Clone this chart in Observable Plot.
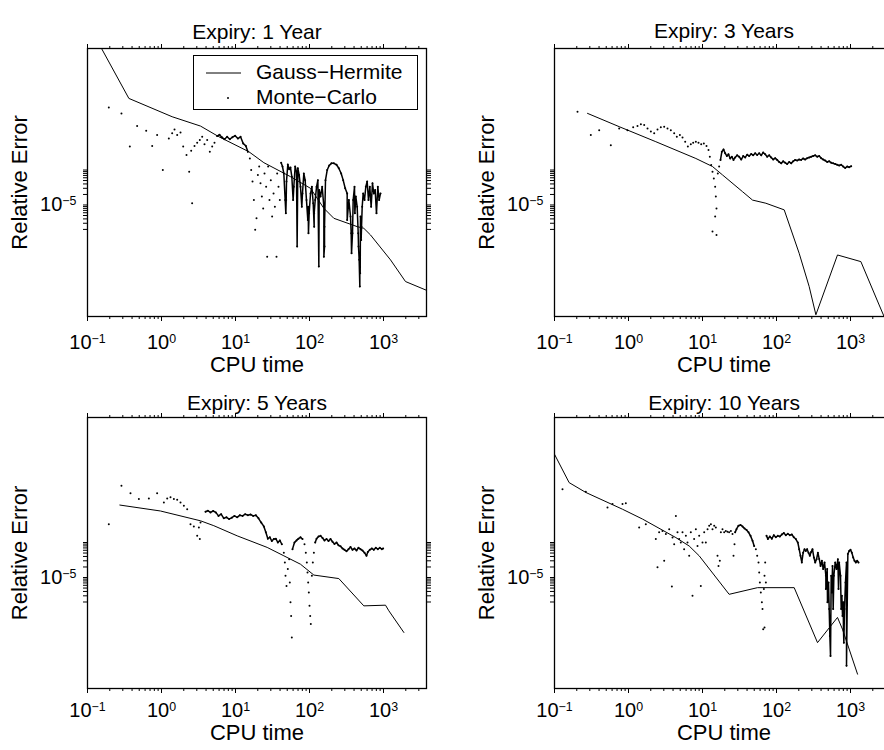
<!DOCTYPE html>
<html><head><meta charset="utf-8">
<script src="https://cdn.jsdelivr.net/npm/d3@7"></script>
<script src="https://cdn.jsdelivr.net/npm/@observablehq/plot@0.6"></script>
<style>
html,body{margin:0;padding:0;background:#fff;overflow:hidden}
#fig{position:relative;width:884px;height:750px;overflow:hidden;font-family:"Liberation Sans",Arial,Helvetica,sans-serif;color:#000}
.panel{position:absolute}
#legend{position:absolute;left:193px;top:55px;width:223px;height:53px;border:1.3px solid #000;background:#fff;font-size:21px}
#legend span{position:absolute;left:62px;white-space:nowrap;line-height:24px}
</style></head><body><div id="fig"></div>
<script>
// ---- axes / scale settings ----
const xDomain = [0.1, 3810];
const yDomainTop = [6.46e-9, 0.299];
const yDomainBottom = [6.76e-9, 0.372];
const xMajor = [0.1, 1, 10, 100, 1000];
const xTickLabels = ["10^-1", "10^0", "10^1", "10^2", "10^3"];
const xMinor = [0.2,0.3,0.4,0.5,0.6,0.7,0.8,0.9,2,3,4,5,6,7,8,9,20,30,40,50,60,70,80,90,200,300,400,500,600,700,800,900,2000,3000];
const yMajor = [1e-5];
const yTickLabels = ["10^-5"];
const yMinor = [2e-6,3e-6,4e-6,5e-6,6e-6,7e-6,8e-6,9e-6,2e-5,3e-5,4e-5,5e-5,6e-5,7e-5,8e-5,9e-5,1e-4];
const titles = ["Expiry: 1 Year", "Expiry: 3 Years", "Expiry: 5 Years", "Expiry: 10 Years"];
const xLabel = "CPU time";
const yLabel = "Relative Error";
const legendLabels = ["Gauss\u2212Hermite", "Monte\u2212Carlo"];

// ---- data: [log10(CPU time), log10(relative error)] ----
const gh1Log = [[-1,0.21],[-0.441,-1.952],[0.144,-2.476],[0.527,-2.743],[0.775,-3.048],[1.180,-3.476],[1.383,-3.790],[1.743,-4.190],[2.014,-4.524],[2.194,-5.095],[2.329,-5.381],[2.644,-5.619],[2.734,-5.667],[2.824,-5.857],[3.095,-6.571],[3.297,-7.190],[3.581,-7.44]];
const gh2Log = [[-0.554,-2.38],[-0.126,-2.76],[0.369,-3.19],[0.910,-3.67],[1.135,-3.90],[1.270,-4.14],[1.541,-4.62],[1.676,-4.86],[1.856,-4.95],[2.104,-5.14],[2.306,-6.38],[2.441,-7.33],[2.532,-8.14],[2.824,-6.43],[3.140,-6.62],[3.387,-7.86],[3.581,-8.82]];
const gh3Log = [[-0.563,-2.93],[-0.014,-3.10],[0.527,-3.38],[0.707,-3.52],[1.023,-3.81],[1.428,-4.14],[1.653,-4.38],[1.878,-4.62],[2.059,-4.93],[2.396,-5.03],[2.734,-5.81],[3.027,-5.79],[3.072,-5.95],[3.275,-6.57]];
const gh4Log = [[-1.000,-1.48],[-0.802,-2.29],[-0.577,-2.57],[-0.081,-3.05],[0.189,-3.33],[0.640,-3.86],[0.820,-4.10],[0.955,-4.38],[1.360,-5.48],[1.743,-5.29],[2.239,-5.29],[2.554,-6.86],[2.824,-6.14],[2.892,-6.48],[3.095,-7.76]];

const mc1Log = [[-0.712,-2.21],[-0.541,-2.38],[-0.428,-3.33],[-0.329,-2.74],[-0.207,-2.88],[-0.126,-3.31],[-0.059,-3.00],[0.018,-4.00],[0.099,-3.10],[0.144,-2.95],[0.176,-2.84],[0.212,-3.00],[0.257,-2.93],[0.293,-3.33],[0.338,-3.57],[0.374,-4.05],[0.414,-4.95],[0.401,-3.45],[0.446,-3.31],[0.482,-3.22],[0.518,-3.14],[0.550,-3.05],[0.581,-3.26],[0.617,-3.14],[0.653,-3.48],[0.685,-3.33],[0.716,-3.22],
[0.752,-3.03],[0.784,-2.99],[0.815,-3.06],[0.851,-3.12],[0.887,-3.05],[0.923,-3.12],[0.959,-3.06],[0.995,-3.02],[1.032,-3.10],[1.068,-3.05],[1.104,-3.24],[1.140,-3.31],[1.167,-3.48],
[1.194,-3.67],[1.212,-4.00],[1.230,-4.33],[1.248,-4.86],[1.266,-5.71],[1.284,-5.38],[1.302,-4.14],[1.320,-3.90],[1.338,-4.38],[1.356,-4.76],[1.374,-5.10],[1.392,-4.10],[1.414,-4.48],[1.428,-6.48],[1.441,-3.90],[1.459,-4.86],[1.477,-4.29],[1.495,-5.33],[1.514,-4.67],[1.532,-5.05],[1.554,-6.48],[1.563,-4.10],[1.581,-4.48],[1.599,-4.86],
[1.617,-3.79],[1.635,-3.90],[1.653,-4.10],[1.671,-4.86],[1.680,-5.24],[1.689,-4.33],[1.707,-3.84],[1.725,-3.98],[1.743,-3.93],[1.761,-4.19],[1.779,-4.86],[1.788,-4.48],[1.806,-3.90],[1.824,-4.05],[1.842,-3.95],[1.860,-4.14],[1.878,-4.48],[1.896,-5.05],[1.905,-4.67],[1.923,-4.10],[1.941,-4.29],[1.959,-4.86],[1.977,-5.43],[1.986,-5.81],[1.995,-5.24],[2.014,-4.67],[2.032,-4.48],[2.050,-4.95],[2.063,-5.62],[2.077,-4.86],[2.095,-4.48],[2.113,-4.29],[2.131,-4.57],[2.149,-4.76],[2.171,-4.48],[2.194,-5.05],[2.203,-6.19],
[2.216,-4.29],[2.239,-4.00],[2.266,-3.87],[2.297,-3.81],[2.329,-3.81],[2.365,-3.85],[2.396,-3.95],[2.428,-4.10],[2.455,-4.29],[2.482,-4.52],[2.509,-4.67],[2.532,-4.86],[2.554,-5.33],[2.568,-6.38],[2.581,-5.81],[2.590,-4.86],[2.608,-4.48],[2.626,-4.76],[2.644,-5.05],[2.658,-5.81],[2.671,-6.57],[2.680,-7.33],[2.689,-5.33],[2.698,-6.00],[2.712,-5.05],[2.725,-4.67],[2.743,-4.86],[2.761,-4.48],[2.779,-4.33],[2.797,-4.86],[2.815,-4.48],[2.833,-5.05],[2.851,-4.38],[2.869,-4.67],[2.887,-4.57],[2.905,-5.24],[2.923,-4.48],[2.941,-4.86],[2.959,-4.67],
[2.680,-6.38],[2.685,-6.95],[2.563,-5.81],[1.982,-5.05],[2.203,-5.62],[2.063,-5.24],[2.662,-6.19],[2.613,-5.24],[1.685,-4.86],[2.703,-5.62],[2.509,-5.43],[1.833,-6.19],[2.194,-6.48],[2.126,-6.76]];

const mc2Log = [[-0.689,-2.33],[-0.509,-3.00],[-0.396,-2.86],[-0.239,-3.29],[-0.126,-2.81],[-0.014,-2.86],[0.063,-2.78],[0.122,-2.74],[0.167,-2.69],[0.212,-2.71],[0.257,-2.81],[0.302,-2.90],[0.347,-2.95],[0.392,-2.84],[0.437,-2.78],[0.482,-2.76],[0.527,-2.81],[0.572,-2.86],[0.617,-2.95],[0.653,-3.05],[0.694,-3.00],[0.730,-3.07],[0.766,-3.19],[0.802,-3.33],[0.842,-3.26],[0.874,-3.22],[0.910,-3.19],[0.946,-3.22],[0.982,-3.26],[1.018,-3.24],[1.054,-3.31],[1.081,-3.43],[1.099,-3.62],[1.117,-3.86],[1.135,-4.05],[1.153,-4.24],[1.171,-4.48],[1.180,-4.76],[1.189,-5.10],[1.171,-5.33],[1.135,-5.76],[1.189,-5.86],[1.207,-4.10],[1.225,-3.90],[1.243,-3.71],[1.261,-3.48],[1.284,-3.41],[1.306,-3.52],[1.329,-3.60],[1.351,-3.55],[1.374,-3.67],[1.396,-3.62],[1.419,-3.71],[1.441,-3.64],[1.468,-3.58],[1.495,-3.62],[1.523,-3.70],[1.550,-3.60],[1.577,-3.64],[1.604,-3.56],[1.631,-3.60],[1.658,-3.54],[1.685,-3.58],[1.712,-3.52],[1.739,-3.57],[1.766,-3.52],[1.793,-3.58],[1.820,-3.50],[1.847,-3.55],[1.874,-3.62],[1.901,-3.58],[1.928,-3.64],[1.955,-3.70],[1.982,-3.66],[2.009,-3.71],[2.036,-3.77],[2.063,-3.81],[2.090,-3.75],[2.117,-3.79],[2.144,-3.83],[2.171,-3.77],[2.198,-3.81],[2.225,-3.75],[2.252,-3.71],[2.279,-3.73],[2.306,-3.70],[2.333,-3.71],[2.360,-3.67],[2.387,-3.70],[2.414,-3.66],[2.441,-3.64],[2.468,-3.62],[2.495,-3.60],[2.523,-3.58],[2.550,-3.62],[2.577,-3.60],[2.604,-3.66],[2.631,-3.70],[2.658,-3.73],[2.685,-3.77],[2.712,-3.75],[2.739,-3.79],[2.766,-3.81],[2.793,-3.83],[2.820,-3.85],[2.847,-3.87],[2.874,-3.85],[2.901,-3.90],[2.928,-3.94],[2.955,-3.90],[2.982,-3.92],[3.009,-3.89]];

const mc3Log = [[-0.712,-3.48],[-0.541,-2.38],[-0.419,-2.59],[-0.306,-2.76],[-0.171,-2.74],[-0.059,-2.59],[0.032,-2.86],[0.077,-2.74],[0.122,-2.71],[0.167,-2.76],[0.212,-2.78],[0.257,-2.86],[0.302,-2.95],[0.347,-3.05],[0.392,-3.48],[0.437,-3.54],[0.482,-3.81],[0.518,-3.90],[0.505,-3.57],[0.527,-3.43],
[0.595,-3.12],[0.626,-3.09],[0.662,-3.14],[0.698,-3.10],[0.734,-3.14],[0.770,-3.24],[0.806,-3.19],[0.842,-3.31],[0.878,-3.28],[0.914,-3.33],[0.950,-3.29],[0.986,-3.24],[1.023,-3.28],[1.059,-3.22],[1.095,-3.24],[1.131,-3.19],[1.167,-3.22],[1.203,-3.20],[1.239,-3.24],[1.275,-3.22],[1.311,-3.31],[1.347,-3.43],[1.383,-3.54],[1.410,-3.71],[1.437,-3.89],[1.464,-3.85],[1.491,-3.96],[1.518,-3.90],[1.545,-3.89],[1.572,-4.00],[1.599,-3.94],[1.626,-4.05],[1.653,-4.29],[1.667,-4.57],[1.676,-4.95],[1.689,-5.24],[1.707,-4.76],[1.725,-4.48],[1.734,-5.14],[1.743,-5.71],[1.752,-6.10],[1.761,-6.71],[1.770,-4.19],[1.797,-4.00],[1.824,-3.94],[1.851,-3.89],[1.878,-3.85],[1.905,-3.90],[1.932,-4.05],[1.950,-4.29],[1.964,-4.57],[1.973,-4.86],[1.982,-5.14],[1.991,-5.43],[2.000,-5.81],[2.009,-6.10],[2.018,-6.33],[2.032,-4.95],[2.045,-4.57],[2.059,-4.29],[2.077,-4.00],[2.095,-3.89],[2.122,-3.83],[2.149,-3.81],[2.176,-3.87],[2.203,-3.94],[2.230,-3.90],[2.257,-3.96],[2.284,-3.90],[2.311,-3.98],[2.338,-4.04],[2.365,-4.00],[2.392,-4.08],[2.419,-4.11],[2.446,-4.17],[2.473,-4.21],[2.500,-4.25],[2.527,-4.19],[2.554,-4.13],[2.581,-4.21],[2.608,-4.17],[2.635,-4.23],[2.662,-4.15],[2.689,-4.19],[2.716,-4.23],[2.743,-4.29],[2.770,-4.38],[2.788,-4.27],[2.815,-4.21],[2.842,-4.17],[2.869,-4.21],[2.896,-4.15],[2.923,-4.19],[2.950,-4.15],[2.977,-4.19],[2.995,-4.17]];

const mc4Log = [[-0.892,-2.48],[-0.577,-2.55],[-0.284,-3.00],[-0.216,-2.90],[-0.081,-2.90],[-0.036,-2.88],[0.144,-3.57],[0.234,-3.48],[0.369,-3.90],[0.392,-4.71],[0.414,-3.71],[0.459,-3.67],[0.482,-4.52],[0.505,-3.76],[0.550,-3.62],[0.586,-5.26],[0.595,-3.86],[0.617,-4.05],[0.640,-3.24],[0.662,-3.71],[0.685,-3.90],[0.707,-4.00],[0.730,-3.71],[0.752,-4.19],[0.775,-3.81],[0.797,-4.00],[0.820,-4.38],[0.842,-3.71],[0.865,-5.52],[0.887,-3.90],[0.910,-3.62],[0.932,-4.10],[0.955,-3.81],[0.977,-5.24],[1.000,-4.00],[1.023,-3.71],[1.045,-4.00],[1.068,-3.62],[1.090,-3.52],[1.113,-3.48],[1.135,-3.62],[1.158,-3.52],[1.180,-3.57],[1.203,-4.38],[1.216,-4.67],[1.234,-4.52],[1.248,-3.71],[1.270,-3.62],[1.293,-3.71],[1.315,-3.67],[1.338,-3.69],[1.360,-3.71],[1.383,-3.67],[1.405,-3.76],[1.419,-4.38],[1.432,-4.05],[1.441,-3.71],[1.459,-3.62],[1.486,-3.52],[1.514,-3.50],[1.541,-3.54],[1.568,-3.60],[1.595,-3.64],[1.622,-3.71],[1.649,-3.81],[1.676,-3.95],[1.698,-4.10],[1.721,-4.19],[1.739,-4.38],[1.757,-4.57],[1.766,-4.86],[1.775,-5.14],[1.788,-5.43],[1.802,-5.71],[1.811,-5.90],[1.820,-6.48],[1.829,-5.33],[1.838,-4.95],[1.847,-4.57],[1.856,-5.14],[1.865,-3.81],[1.883,-3.90],[1.910,-3.83],[1.937,-3.89],[1.964,-3.79],[1.991,-3.85],[2.018,-3.81],[2.045,-3.83],[2.072,-3.77],[2.099,-3.73],[2.126,-3.79],[2.153,-3.75],[2.180,-3.79],[2.207,-3.77],[2.234,-3.85],[2.261,-3.90],[2.288,-4.00],[2.306,-4.19],[2.324,-4.38],[2.342,-4.57],[2.360,-4.29],[2.378,-4.19],[2.396,-4.24],[2.414,-4.19],[2.432,-4.29],[2.450,-4.38],[2.468,-4.27],[2.486,-4.19],[2.505,-4.43],[2.523,-4.57],[2.541,-4.48],[2.559,-4.29],[2.577,-4.47],[2.595,-4.67],[2.613,-4.52],[2.631,-4.76],[2.649,-4.57],[2.667,-4.95],[2.685,-4.76],[2.703,-5.14],[2.712,-5.90],[2.721,-6.67],[2.730,-7.24],[2.739,-4.95],[2.757,-4.67],[2.775,-4.95],[2.793,-4.57],[2.811,-4.76],[2.829,-4.48],[2.847,-4.57],[2.865,-4.95],[2.883,-5.52],[2.892,-6.10],[2.905,-6.48],[2.919,-5.90],[2.932,-5.14],[2.946,-4.57],[2.964,-4.33],[2.982,-4.24],[3.000,-4.21],[3.018,-4.29],[3.036,-4.43],[3.054,-4.52],[3.072,-4.57],[3.090,-4.52],[3.108,-4.57],[2.946,-7.52],[1.838,-6.43],[2.667,-5.33],[2.689,-5.71],[2.748,-5.43],[2.766,-5.90],[2.838,-5.33],[2.874,-5.90],[2.901,-5.71],[2.910,-6.86]];

// log10(CPU time) ranges where the Monte-Carlo points are so dense they merge into a trace
const mc1Dense = [[0.74, 1.18], [1.61, 2.96]];
const mc2Dense = [[1.24, 3.01]];
const mc3Dense = [[0.59, 1.64], [1.77, 1.93], [2.06, 3.0]];
const mc4Dense = [[1.44, 1.70], [1.86, 3.11]];

// ---- layout ----
const FONT = '"Liberation Sans", Arial, Helvetica, sans-serif';
const panels = [
  {left: 0,   top: 0,   width: 442, mL: 87,  mR: 16, mT: 48, mB: 59, yDomain: yDomainTop,    title: titles[0], gh: gh1Log, mc: mc1Log, dense: mc1Dense, titleDy: -24, labelDy: 55, xPad: 13},
  {left: 442, top: 0,   width: 461, mL: 112, mR: 10, mT: 48, mB: 59, yDomain: yDomainTop,    title: titles[1], gh: gh2Log, mc: mc2Log, dense: mc2Dense, titleDy: -25, labelDy: 55, xPad: 13},
  {left: 0,   top: 375, width: 442, mL: 87,  mR: 16, mT: 42, mB: 62, yDomain: yDomainBottom, title: titles[2], gh: gh3Log, mc: mc3Log, dense: mc3Dense, titleDy: -22, labelDy: 51, xPad: 9},
  {left: 442, top: 375, width: 461, mL: 112, mR: 10, mT: 42, mB: 62, yDomain: yDomainBottom, title: titles[3], gh: gh4Log, mc: mc4Log, dense: mc4Dense, titleDy: -22, labelDy: 51, xPad: 9}
];

const toRows = arr => arr.map(([lt, le]) => ({lt, t: 10 ** lt, err: 10 ** le}));
const denseRows = (arr, ranges) => {
  const rows = toRows(arr).sort((a, b) => a.lt - b.lt);
  const out = [];
  ranges.forEach(([a, b], i) => rows.filter(r => r.lt >= a && r.lt <= b).forEach(r => out.push({...r, seg: i})));
  return out;
};
const blank = () => "";
const fmtX = d => xTickLabels[xMajor.indexOf(d)] ?? "";
const fmtY = d => yTickLabels[yMajor.indexOf(d)] ?? "";

const fig = document.getElementById("fig");

for (const p of panels) {
  const svg = Plot.plot({
    width: p.width, height: 375,
    marginLeft: p.mL, marginRight: p.mR, marginTop: p.mT, marginBottom: p.mB,
    x: {type: "log", domain: xDomain},
    y: {type: "log", domain: p.yDomain},
    style: {fontFamily: FONT, fontSize: "20px", color: "#000", background: "transparent", overflow: "visible"},
    marks: [
      Plot.axisX({anchor: "bottom", ticks: xMajor, tickSize: 5, tickPadding: p.xPad, tickFormat: fmtX, label: null, fontSize: 20, strokeWidth: 1}),
      Plot.axisX({anchor: "bottom", ticks: xMinor, tickSize: 3, tickFormat: blank, label: null, strokeWidth: 1}),
      Plot.axisX({anchor: "top", ticks: xMajor, tickSize: 5, tickFormat: blank, label: null, strokeWidth: 1}),
      Plot.axisX({anchor: "top", ticks: xMinor, tickSize: 3, tickFormat: blank, label: null, strokeWidth: 1}),
      Plot.axisY({anchor: "left", ticks: yMajor, tickSize: 4, tickPadding: 7, tickFormat: fmtY, label: null, fontSize: 20, strokeWidth: 1}),
      Plot.axisY({anchor: "left", ticks: yMinor, tickSize: 4, tickFormat: blank, label: null, strokeWidth: 1}),
      Plot.axisY({anchor: "right", ticks: yMajor.concat(yMinor), tickSize: 4, tickFormat: blank, label: null, strokeWidth: 1}),
      Plot.line(toRows(p.gh), {x: "t", y: "err", stroke: "#000", strokeWidth: 1, clip: true}),
      Plot.line(denseRows(p.mc, p.dense), {x: "t", y: "err", z: "seg", stroke: "#000", strokeWidth: 1.5, strokeLinejoin: "round", clip: true}),
      Plot.dot(toRows(p.mc), {x: "t", y: "err", r: 1, fill: "#000", stroke: "none", clip: true}),
      Plot.frame({stroke: "#000", strokeWidth: 1.3}),
      Plot.text([p.title], {frameAnchor: "top", dy: p.titleDy, fontSize: 21, fill: "#000"}),
      Plot.text([xLabel], {frameAnchor: "bottom", dy: p.labelDy, fontSize: 22, fill: "#000"}),
      Plot.text([yLabel], {frameAnchor: "left", dx: -68, rotate: -90, textAnchor: "middle", fontSize: 22, fill: "#000"})
    ]
  });
  // superscript exponents for "10^k" tick labels
  svg.querySelectorAll("text").forEach(el => {
    const m = /^10\^(-?\d+)$/.exec(el.textContent);
    if (!m) return;
    el.textContent = "";
    const ns = "http://www.w3.org/2000/svg";
    const base = document.createElementNS(ns, "tspan");
    base.textContent = "10";
    const sup = document.createElementNS(ns, "tspan");
    sup.setAttribute("dy", "-0.5em");
    sup.setAttribute("font-size", "0.62em");
    sup.textContent = m[1].replace("-", "\u2212");
    el.appendChild(base);
    el.appendChild(sup);
  });
  svg.classList.add("panel");
  svg.style.left = p.left + "px";
  svg.style.top = p.top + "px";
  svg.style.position = "absolute";
  fig.appendChild(svg);
}

// legend (panel 1)
const legend = document.createElement("div");
legend.id = "legend";
legend.innerHTML =
  '<svg width="60" height="53" style="position:absolute;left:0;top:0">' +
  '<line x1="12" x2="47" y1="17" y2="17" stroke="#000" stroke-width="1"/>' +
  '<circle cx="34" cy="42" r="1" fill="#000"/></svg>' +
  '<span style="top:4px">' + legendLabels[0] + '</span>' +
  '<span style="top:29px">' + legendLabels[1] + '</span>';
fig.appendChild(legend);
</script>
</body></html>
